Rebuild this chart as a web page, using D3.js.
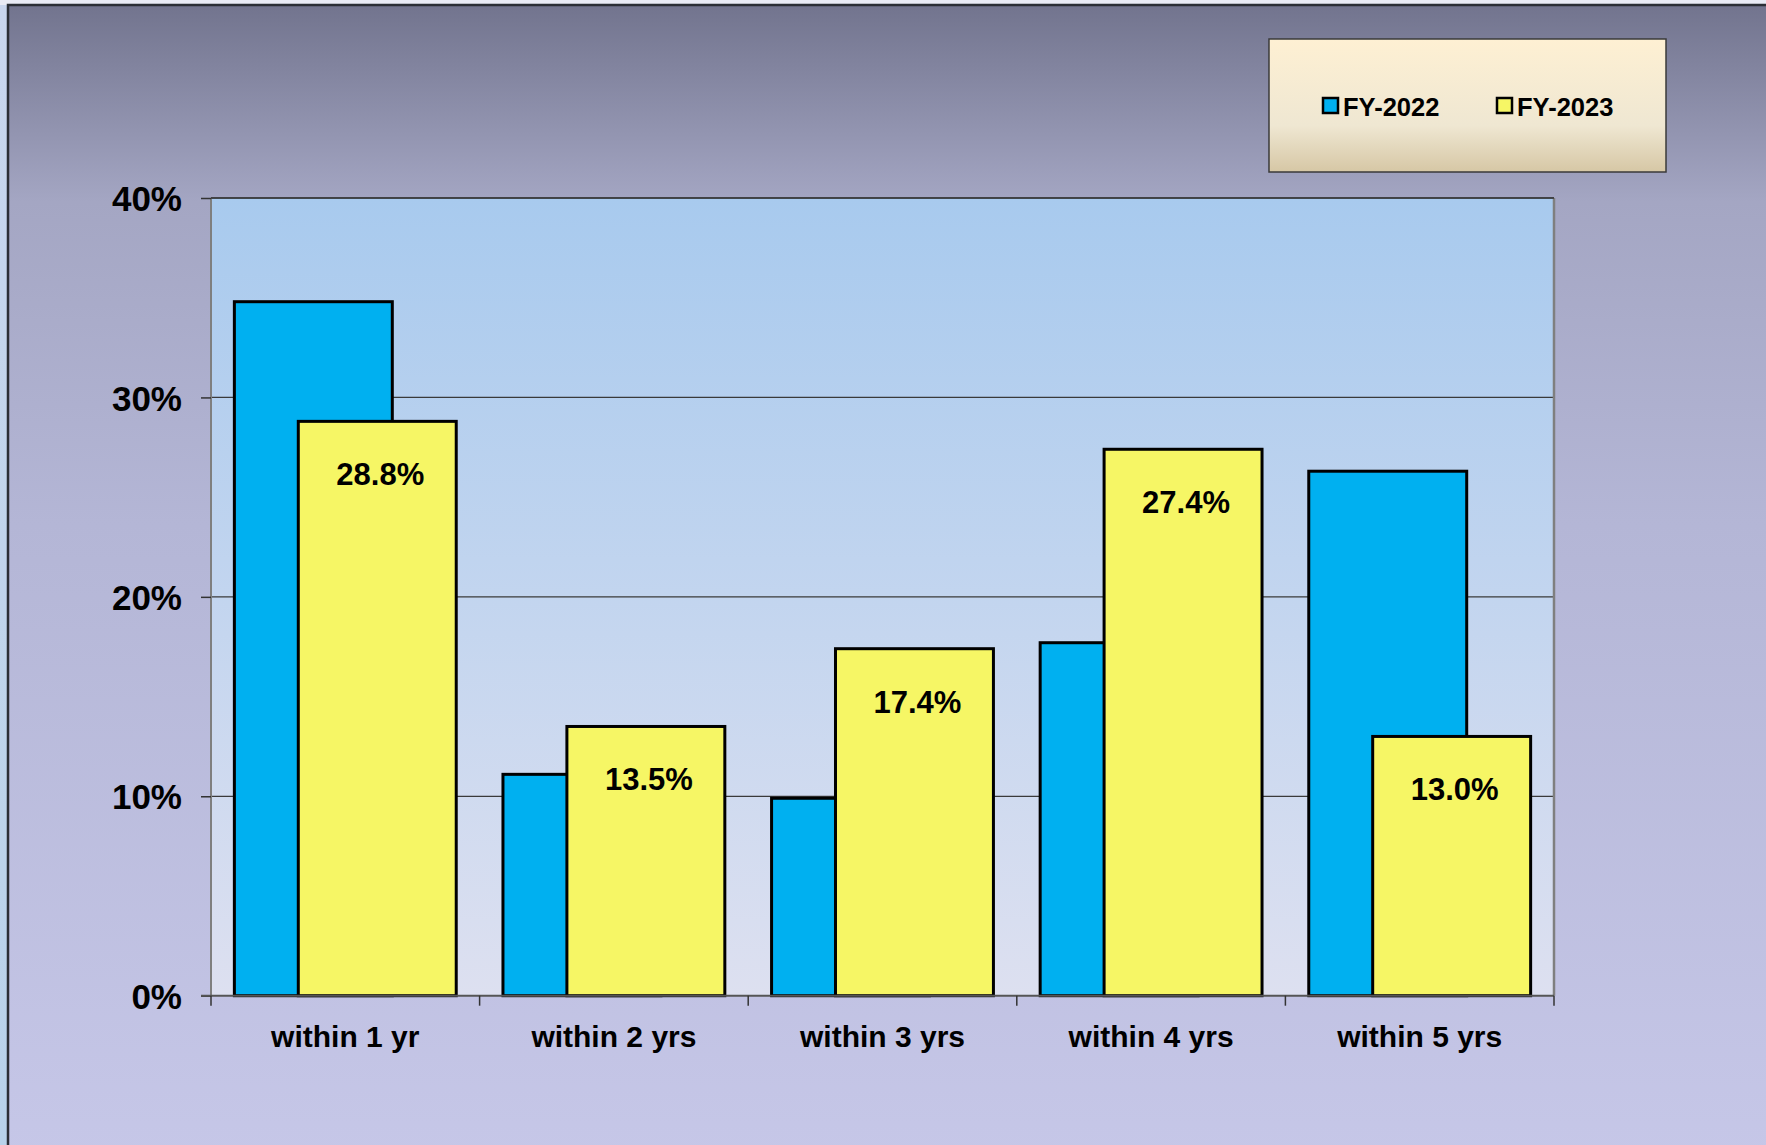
<!DOCTYPE html>
<meta charset="utf-8">
<style>

body {
  margin: 0;
  background: #e9ebf5;
}

text {
  font-family: "Liberation Sans", Arial, sans-serif;
  font-weight: bold;
  fill: #000;
}

.bar {
  stroke: #000;
  stroke-width: 3px;
}

</style>
<body>
<script src="https://cdn.jsdelivr.net/npm/d3@7"></script>
<script>

var categories = ["within 1 yr", "within 2 yrs", "within 3 yrs", "within 4 yrs", "within 5 yrs"];
var seriesNames = ["FY-2022", "FY-2023"];
var fy2022 = [0.348, 0.111, 0.099, 0.177, 0.263];
var fy2023 = [0.288, 0.135, 0.174, 0.274, 0.130];
var yTicks = [0, 0.1, 0.2, 0.3, 0.4];

var w = 1766,
    h = 1145,
    pLeft = 211,
    pRight = 1554,
    pTop = 198,
    pBottom = 995.7;

var colors = ["#00b0f0", "#f6f665"];

var svg = d3.select("body").append("svg")
    .attr("width", w)
    .attr("height", h);

var defs = svg.append("defs");

function grad(id, stops) {
  var g = defs.append("linearGradient")
      .attr("id", id)
      .attr("x1", 0).attr("y1", 0).attr("x2", 0).attr("y2", 1);
  stops.forEach(function(s) {
    g.append("stop").attr("offset", s[0]).attr("stop-color", s[1]);
  });
}

grad("frame", [["0%", "#72748e"], ["17%", "#a4a6c3"], ["45%", "#b4b6d6"], ["100%", "#c6c7e8"]]);
grad("plot", [["0%", "#a8caee"], ["100%", "#dde0f0"]]);
grad("legend", [["0%", "#fef0d3"], ["65%", "#efe7d2"], ["100%", "#d6c7a5"]]);
grad("side", [["0%", "#c9d6ee"], ["100%", "#b8d2ea"]]);

// left strip and outer frame
svg.append("rect")
    .attr("x", 0).attr("y", 5)
    .attr("width", 8).attr("height", h)
    .style("fill", "url(#side)");

svg.append("rect")
    .attr("x", 8).attr("y", 5)
    .attr("width", w + 10).attr("height", h + 10)
    .style("fill", "url(#frame)")
    .style("stroke", "#2b2e36")
    .style("stroke-width", 2.5);

var x = d3.scaleBand()
    .domain(categories)
    .range([pLeft, pRight]);

var y = d3.scaleLinear()
    .domain([0, 0.4])
    .range([pBottom, pTop]);

var bw = x.bandwidth(),
    barW = bw * 0.588,
    gap = bw * 0.087,
    shift = bw * 0.238;

// plot area
svg.append("rect")
    .attr("x", pLeft).attr("y", pTop)
    .attr("width", pRight - pLeft).attr("height", pBottom - pTop)
    .style("fill", "url(#plot)");

svg.append("g")
  .selectAll("line")
    .data(yTicks.slice(1))
  .enter().append("line")
    .attr("x1", pLeft).attr("x2", pRight)
    .attr("y1", function(d) { return y(d); })
    .attr("y2", function(d) { return y(d); })
    .style("stroke", "#3a3a3a")
    .style("stroke-width", 1.2);

svg.append("line")
    .attr("x1", pLeft).attr("x2", pLeft)
    .attr("y1", pTop).attr("y2", pBottom)
    .style("stroke", "#7f7f7f").style("stroke-width", 2);

svg.append("line")
    .attr("x1", pRight).attr("x2", pRight)
    .attr("y1", pTop).attr("y2", pBottom)
    .style("stroke", "#7f7f7f").style("stroke-width", 2.5);

// bars
var rows = categories.map(function(c, i) { return {cat: c, a: fy2022[i], b: fy2023[i]}; });

var groups = svg.append("g").selectAll("g")
    .data(rows)
  .enter().append("g");

groups.append("rect")
    .attr("class", "bar")
    .attr("x", function(d) { return x(d.cat) + gap; })
    .attr("y", function(d) { return y(d.a); })
    .attr("width", barW)
    .attr("height", function(d) { return pBottom - y(d.a); })
    .style("fill", colors[0]);

groups.append("rect")
    .attr("class", "bar")
    .attr("x", function(d) { return x(d.cat) + gap + shift; })
    .attr("y", function(d) { return y(d.b); })
    .attr("width", barW)
    .attr("height", function(d) { return pBottom - y(d.b); })
    .style("fill", colors[1]);

groups.append("text")
    .attr("x", function(d) { return x(d.cat) + gap + shift + barW / 2 + 3; })
    .attr("y", function(d) { return y(d.b) + 64; })
    .attr("text-anchor", "middle")
    .style("font-size", "31px")
    .text(function(d) { return d3.format(".1%")(d.b); });

// axes
var yAxis = svg.append("g")
    .attr("transform", "translate(" + pLeft + ",0)")
    .call(d3.axisLeft(y).tickValues(yTicks).tickFormat(d3.format(".0%")).tickSize(10).tickPadding(19));

yAxis.select(".domain").remove();
yAxis.selectAll("line").style("stroke", "#333").style("stroke-width", 1.5);
yAxis.selectAll("text")
    .attr("dy", "0.36em")
    .style("font-size", "35px")
    .style("font-family", "'Liberation Sans', Arial, sans-serif")
    .style("font-weight", "bold");

var xAxis = svg.append("g")
    .attr("transform", "translate(0," + pBottom + ")");

xAxis.append("line")
    .attr("x1", pLeft - 10).attr("x2", pRight)
    .style("stroke", "#555").style("stroke-width", 2);

xAxis.selectAll(".tk")
    .data(categories.concat([null]))
  .enter().append("line")
    .attr("class", "tk")
    .attr("x1", function(d) { return d ? x(d) : pRight; })
    .attr("x2", function(d) { return d ? x(d) : pRight; })
    .attr("y1", 0).attr("y2", 10)
    .style("stroke", "#333").style("stroke-width", 1.5);

xAxis.selectAll(".lbl")
    .data(categories)
  .enter().append("text")
    .attr("class", "lbl")
    .attr("x", function(d) { return x(d) + bw / 2; })
    .attr("y", 51)
    .attr("text-anchor", "middle")
    .style("font-size", "30px")
    .text(function(d) { return d; });

svg.append("line")
    .attr("x1", pLeft).attr("x2", pRight)
    .attr("y1", pTop).attr("y2", pTop)
    .style("stroke", "#333").style("stroke-width", 1.5);

// legend
var legend = svg.append("g");

legend.append("rect")
    .attr("x", 1269).attr("y", 39)
    .attr("width", 397).attr("height", 133)
    .style("fill", "url(#legend)")
    .style("stroke", "#3a3a3a")
    .style("stroke-width", 1.5);

var items = legend.selectAll(".item")
    .data(seriesNames)
  .enter().append("g")
    .attr("class", "item")
    .attr("transform", function(d, i) { return "translate(" + (1323 + i * 174) + ",0)"; });

items.append("rect")
    .attr("x", 0).attr("y", 98)
    .attr("width", 15).attr("height", 15)
    .style("fill", function(d, i) { return colors[i]; })
    .style("stroke", "#000")
    .style("stroke-width", 2.5);

items.append("text")
    .attr("x", 20).attr("y", 116)
    .style("font-size", "25.5px")
    .text(function(d) { return d; });

</script>
